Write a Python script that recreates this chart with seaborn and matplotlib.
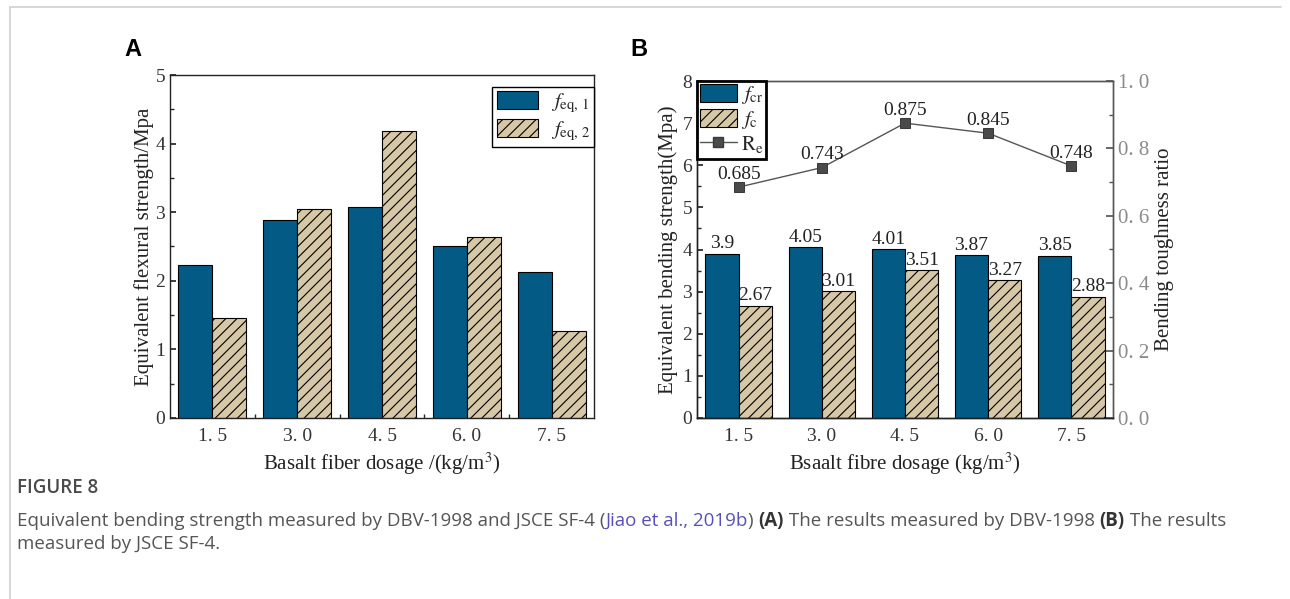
import numpy as np
import pandas as pd
import matplotlib
matplotlib.use("Agg")
import matplotlib.pyplot as plt
import seaborn as sns
from matplotlib.lines import Line2D
from matplotlib.patches import Patch
from matplotlib.ticker import MultipleLocator, FuncFormatter

# ---- data -------------------------------------------------------------
dosage_labels = ["1. 5", "3. 0", "4. 5", "6. 0", "7. 5"]
feq1 = [2.23, 2.88, 3.07, 2.50, 2.13]
feq2 = [1.46, 3.05, 4.18, 2.64, 1.27]
fcr = [3.90, 4.05, 4.01, 3.87, 3.85]
fc = [2.67, 3.01, 3.51, 3.27, 2.88]
re_ratio = [0.685, 0.743, 0.875, 0.845, 0.748]

BLUE = "#035a84"
TAN = "#d6c7a7"
HATCH = "///"
CAP_FONT = ["Open Sans", "DejaVu Sans"]
TICK_SIZE = 14
LABEL_SIZE = 15
VALUE_SIZE = 14

sns.set_theme(style="ticks")
plt.rcParams["font.family"] = ["Liberation Serif", "DejaVu Serif"]
plt.rcParams["mathtext.fontset"] = "stix"
plt.rcParams["hatch.linewidth"] = 0.8
plt.rcParams["axes.linewidth"] = 1.0

W, H = 1290, 599
fig = plt.figure(figsize=(W / 100, H / 100), dpi=100)
fig.patch.set_facecolor("white")


def px_box(left, top, right, bottom):
    return [left / W, 1 - bottom / H, (right - left) / W, (bottom - top) / H]


axA = fig.add_axes(px_box(170, 75, 594, 418))
axB = fig.add_axes(px_box(697, 81, 1113, 418))

# ---- panel A: DBV-1998 -----------------------------------------------
dfA = pd.DataFrame({
    "dosage": dosage_labels * 2,
    "value": feq1 + feq2,
    "series": ["feq1"] * len(feq1) + ["feq2"] * len(feq2),
})
sns.barplot(data=dfA, x="dosage", y="value", hue="series",
            palette=[BLUE, TAN], saturation=1, width=0.8,
            edgecolor="black", linewidth=0.8, legend=False, ax=axA)
for bar in axA.containers[1]:
    bar.set_hatch(HATCH)

axA.set_xlim(-0.5, 4.5)
axA.set_ylim(0, 5)
axA.yaxis.set_major_locator(MultipleLocator(1))
axA.yaxis.set_minor_locator(MultipleLocator(0.5))
axA.set_xticks([0.5, 1.5, 2.5, 3.5], minor=True)
axA.tick_params(axis="x", which="major", length=0, labelsize=TICK_SIZE, pad=7,
                labelcolor="#333333")
axA.tick_params(axis="x", which="minor", direction="in", length=3)
axA.tick_params(axis="y", which="both", direction="in", labelsize=TICK_SIZE,
                labelcolor="#333333")
axA.tick_params(axis="y", which="major", length=4)
axA.tick_params(axis="y", which="minor", length=3)
for s in axA.spines.values():
    s.set_visible(True)
    s.set_color("#222222")

axA.set_xlabel(r"Basalt fiber dosage /(kg/m$^3$)", fontsize=LABEL_SIZE, color="#222222")
axA.set_ylabel("Equivalent flexural strength/Mpa", fontsize=LABEL_SIZE, color="#222222")
axA.xaxis.set_label_coords(0.5, (418 - 451) / 343)
axA.yaxis.set_label_coords((154 - 170) / 424, 0.5)

legA = axA.legend(
    handles=[Patch(facecolor=BLUE, edgecolor="black", linewidth=0.8),
             Patch(facecolor=TAN, edgecolor="black", linewidth=0.8, hatch=HATCH)],
    labels=[r"$f_{\mathrm{eq,\,1}}$", r"$f_{\mathrm{eq,\,2}}$"],
    loc="upper right", bbox_to_anchor=(1.0, 1 - 12 / 343), borderaxespad=0,
    fancybox=False, framealpha=1, edgecolor="black", fontsize=15,
    handlelength=2.0, handleheight=0.95, borderpad=0.2, labelspacing=0.2,
    handletextpad=0.6)
legA.get_frame().set_linewidth(1.0)

# ---- panel B: JSCE SF-4 -----------------------------------------------
dfB = pd.DataFrame({
    "dosage": dosage_labels * 2,
    "value": fcr + fc,
    "series": ["fcr"] * len(fcr) + ["fc"] * len(fc),
})
sns.barplot(data=dfB, x="dosage", y="value", hue="series",
            palette=[BLUE, TAN], saturation=1, width=0.8,
            edgecolor="black", linewidth=0.8, legend=False, ax=axB)
for bar in axB.containers[1]:
    bar.set_hatch(HATCH)
axB.bar_label(axB.containers[0], labels=[f"{v:g}" for v in fcr],
              padding=1, fontsize=VALUE_SIZE, color="#222222")
axB.bar_label(axB.containers[1], labels=[f"{v:g}" for v in fc],
              padding=1, fontsize=VALUE_SIZE, color="#222222")

axB.set_ylim(0, 8)
axB.yaxis.set_major_locator(MultipleLocator(1))
axB.yaxis.set_minor_locator(MultipleLocator(0.5))
axB.tick_params(axis="x", which="major", length=0, labelsize=TICK_SIZE, pad=7,
                labelcolor="#333333")
axB.tick_params(axis="y", which="both", direction="in", labelsize=TICK_SIZE,
                labelcolor="#333333")
axB.tick_params(axis="y", which="major", length=4)
axB.tick_params(axis="y", which="minor", length=3)
axB.set_xlabel(r"Bsaalt fibre dosage (kg/m$^3$)", fontsize=LABEL_SIZE, color="#222222")
axB.set_ylabel("Equivalent bending strength(Mpa)", fontsize=LABEL_SIZE, color="#222222")
axB.xaxis.set_label_coords(0.5, (418 - 451) / 337)
axB.yaxis.set_label_coords((678 - 697) / 416, 0.5)

axR = axB.twinx()
sns.lineplot(x=np.arange(len(re_ratio)), y=re_ratio, ax=axR,
             color="#555555", linewidth=1.0, marker="s", markersize=6.5,
             markeredgecolor="#3a3a3a", markerfacecolor="#4a4a4a")
for i, v in enumerate(re_ratio):
    axR.annotate(f"{v:.3f}", (i, v), xytext=(0, 3), textcoords="offset points",
                 ha="center", va="bottom", fontsize=VALUE_SIZE, color="#222222")
axR.set_ylim(0, 1)
axR.yaxis.set_major_locator(MultipleLocator(0.2))
axR.yaxis.set_minor_locator(MultipleLocator(0.1))
axR.yaxis.set_major_formatter(FuncFormatter(lambda v, _: f"{v:.1f}".replace(".", ". ")))
axR.tick_params(axis="y", which="both", direction="in", labelsize=15,
                labelcolor="#8a8a8a", color="#555555")
axR.tick_params(axis="y", which="major", length=5)
axR.tick_params(axis="y", which="minor", length=3)
axR.set_ylabel("Bending toughness ratio", fontsize=LABEL_SIZE, color="#222222")
axR.yaxis.set_label_coords((1155 - 697) / 416, 0.5)
axB.set_xlim(-0.5, 4.5)

for name, s in axB.spines.items():
    s.set_visible(True)
    s.set_color("#222222" if name in ("left", "bottom") else "#555555")
for name, s in axR.spines.items():
    s.set_color("#222222" if name in ("left", "bottom") else "#555555")

legB = axR.legend(
    handles=[Patch(facecolor=BLUE, edgecolor="black", linewidth=0.8),
             Patch(facecolor=TAN, edgecolor="black", linewidth=0.8, hatch=HATCH),
             Line2D([], [], color="#555555", linewidth=1.0, marker="s",
                    markersize=6.5, markerfacecolor="#4a4a4a",
                    markeredgecolor="#3a3a3a")],
    labels=[r"$f_{\mathrm{cr}}$", r"$f_{\mathrm{c}}$", r"$\mathrm{R_e}$"],
    loc="upper left", borderaxespad=0, fancybox=False, framealpha=1,
    edgecolor="black", fontsize=15, handlelength=1.75, handleheight=0.9,
    borderpad=0.15, labelspacing=0.15, handletextpad=0.2)
legB.get_frame().set_linewidth(2.0)

# ---- panel letters ----------------------------------------------------
fig.text(124 / W, 1 - 50 / H, "A", family=["Liberation Sans", "DejaVu Sans"],
         fontsize=17, fontweight="bold", va="center", ha="left", color="black")
fig.text(630 / W, 1 - 50 / H, "B", family=["Liberation Sans", "DejaVu Sans"],
         fontsize=17, fontweight="bold", va="center", ha="left", color="black")

# ---- frame lines ------------------------------------------------------
fig.add_artist(Line2D([10 / W, 10 / W], [0, 1 - 7 / H], transform=fig.transFigure,
                      color="#cfcfcf", linewidth=1.2))
fig.add_artist(Line2D([10 / W, 1281 / W], [1 - 7 / H, 1 - 7 / H],
                      transform=fig.transFigure, color="#cfcfcf", linewidth=1.2))

# ---- caption ----------------------------------------------------------
CAP_GRAY = "#555555"
CAP_SIZE = 13.5
CAP_X = 17
fig.text(CAP_X / W, 1 - 488 / H, "FIGURE 8", family=CAP_FONT, fontsize=13.5,
         fontweight="semibold", color="#4a4a4a", va="center", ha="left")

renderer = fig.canvas.get_renderer()


def draw_runs(x_px, y_px, runs):
    x = x_px
    for text, color, weight in runs:
        t = fig.text(x / W, 1 - y_px / H, text, family=CAP_FONT, fontsize=CAP_SIZE,
                     color=color, fontweight=weight, va="center", ha="left")
        x = t.get_window_extent(renderer).x1


draw_runs(CAP_X, 521, [
    ("Equivalent bending strength measured by DBV-1998 and JSCE SF-4 (", CAP_GRAY, "normal"),
    ("Jiao et al., 2019b", "#5a4fb8", "normal"),
    (") ", CAP_GRAY, "normal"),
    ("(A)", "#333333", "bold"),
    (" The results measured by DBV-1998 ", CAP_GRAY, "normal"),
    ("(B)", "#333333", "bold"),
    (" The results", CAP_GRAY, "normal"),
])
draw_runs(CAP_X, 544, [("measured by JSCE SF-4.", CAP_GRAY, "normal")])

fig.savefig("out.png", dpi=100, facecolor="white")
